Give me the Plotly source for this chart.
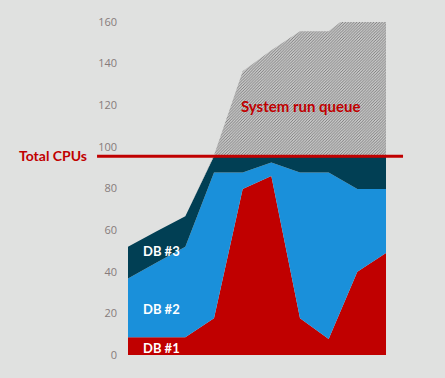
import plotly.graph_objects as go

# ---- data ----
x_idx = [0, 1, 2, 3, 4, 5, 6, 7, 8, 9]
db1 = [8.5, 8.5, 8.5, 17.6, 79.7, 86.0, 17.6, 7.7, 40.0, 49.0]
db2 = [28.3, 36.0, 43.5, 70.1, 8.0, 6.5, 70.1, 80.0, 39.7, 30.7]
db3 = [15.2, 14.9, 14.7, 7.8, 7.8, 3.0, 7.8, 7.8, 15.8, 15.8]
run_queue = [0, 0, 0, 0.5, 40.8, 50.9, 60.0, 60.0, 70.9, 72.5]
total_cpus = 95.5
y_ticks = [0, 20, 40, 60, 80, 100, 120, 140, 160]

RED = "#c00000"
BLUE = "#1a90da"
DARK = "#013f54"
BG = "#e0e1e0"

fig = go.Figure()
fig.add_trace(go.Scatter(x=x_idx, y=db1, stackgroup="s", mode="none",
                         fillcolor=RED, name="DB #1"))
fig.add_trace(go.Scatter(x=x_idx, y=db2, stackgroup="s", mode="none",
                         fillcolor=BLUE, name="DB #2"))
fig.add_trace(go.Scatter(x=x_idx, y=db3, stackgroup="s", mode="none",
                         fillcolor=DARK, name="DB #3"))
fig.add_trace(go.Scatter(x=x_idx, y=run_queue, stackgroup="s", mode="none",
                         fillcolor="white", name="System run queue",
                         fillpattern=dict(shape="/", size=2, solidity=0.6,
                                          fgcolor="black", bgcolor="white")))

fig.add_shape(type="line", xref="paper", yref="y", x0=-0.12, x1=1.066,
              y0=total_cpus, y1=total_cpus, line=dict(color=RED, width=3))

lab_font = dict(family="Lato", size=13, color="white")
fig.add_annotation(x=0.47, y=50, text="<b>DB #3</b>", showarrow=False,
                   xanchor="left", font=lab_font)
fig.add_annotation(x=0.47, y=22, text="<b>DB #2</b>", showarrow=False,
                   xanchor="left", font=lab_font)
fig.add_annotation(x=0.47, y=3.6, text="<b>DB #1</b>", showarrow=False,
                   xanchor="left", font=lab_font)
fig.add_annotation(x=6.05, y=119.5, text="<b>System run queue</b>", showarrow=False,
                   font=dict(family="Lato", size=15, color=RED))
fig.add_annotation(xref="paper", x=-0.151, y=total_cpus + 0.5, text="<b>Total CPUs</b>",
                   showarrow=False, xanchor="right",
                   font=dict(family="Lato", size=14, color=RED))

fig.update_layout(
    width=445, height=378,
    margin=dict(l=128, r=59, t=22, b=23),
    paper_bgcolor=BG, plot_bgcolor=BG,
    showlegend=False,
    xaxis=dict(range=[0, 9], showgrid=False, zeroline=False, showticklabels=False,
               showline=False),
    yaxis=dict(range=[0, 160], tickvals=y_ticks, showgrid=False, zeroline=False,
               showline=False, ticklabelstandoff=10,
               tickfont=dict(family="Open Sans", size=11, color="#867b7b")),
)

fig.write_html("out.html", config={"displayModeBar": False},
               post_script="document.body.style.margin='0';")
